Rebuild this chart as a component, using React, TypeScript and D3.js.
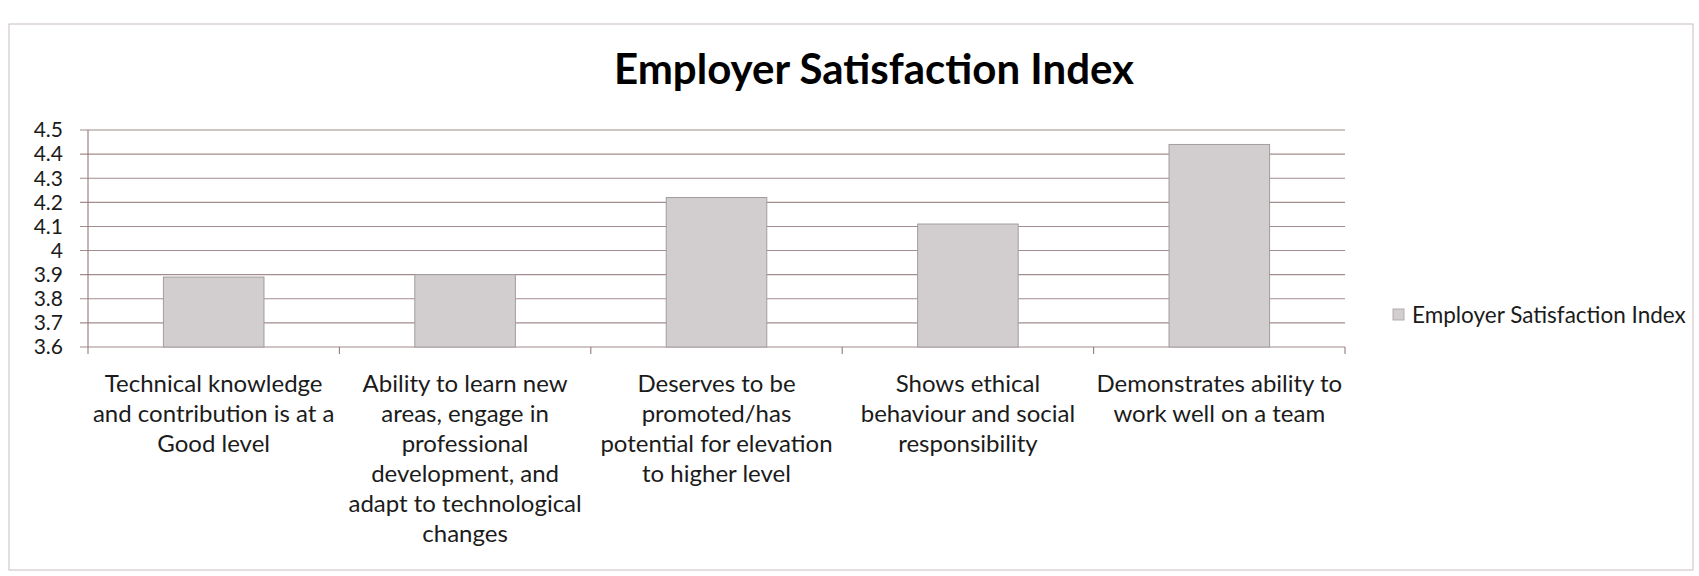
import { useEffect, useRef } from 'react'
import * as d3 from 'd3'

const chartTitle = 'Employer Satisfaction Index'
const seriesName = 'Employer Satisfaction Index'

// category names, wrapped the way the original chart wraps them
const categories = [
  ['Technical knowledge', 'and contribution is at a', 'Good level'],
  ['Ability to learn new', 'areas, engage in', 'professional', 'development, and', 'adapt to technological', 'changes'],
  ['Deserves to be', 'promoted/has', 'potential for elevation', 'to higher level'],
  ['Shows ethical', 'behaviour and social', 'responsibility'],
  ['Demonstrates ability to', 'work well on a team'],
]
const values = [3.89, 3.9, 4.22, 4.11, 4.44]
const yTicks = [3.6, 3.7, 3.8, 3.9, 4.0, 4.1, 4.2, 4.3, 4.4, 4.5]

const W = 1699
const H = 576

export default function App() {
  const ref = useRef<SVGSVGElement | null>(null)

  useEffect(() => {
    const svg = d3.select(ref.current)
    svg.selectAll('*').remove()

    const font = 'Lato, "Open Sans", sans-serif'
    const ink = '#1b1b1b'
    const gridColor = '#927a7b'
    const left = 88, right = 1345, top = 130, bottom = 347

    // chart frame
    svg.append('rect')
      .attr('x', 9).attr('y', 24).attr('width', 1684).attr('height', 546)
      .attr('fill', '#fff').attr('stroke', '#cbbdbe').attr('stroke-width', 1)

    svg.append('text')
      .attr('x', 874).attr('y', 84)
      .attr('text-anchor', 'middle')
      .attr('font-family', font).attr('font-weight', 700).attr('font-size', 42)
      .attr('fill', '#000')
      .text(chartTitle)

    const x = d3.scaleBand<number>()
      .domain(values.map((_, i) => i))
      .range([left, right])
      .paddingInner(0.6)
      .paddingOuter(0.3)
    const y = d3.scaleLinear().domain([3.6, 4.5]).range([bottom, top])

    // gridlines (they run out past the axis as tick marks)
    svg.append('g').selectAll('line')
      .data(yTicks)
      .join('line')
      .attr('x1', left - 8).attr('x2', right)
      .attr('y1', d => y(d)).attr('y2', d => y(d))
      .attr('stroke', gridColor).attr('stroke-width', 1.1).attr('opacity', 0.85)

    svg.append('line')
      .attr('x1', left).attr('x2', left).attr('y1', top).attr('y2', bottom)
      .attr('stroke', gridColor).attr('stroke-width', 1.1)

    svg.append('g').selectAll('text')
      .data(yTicks)
      .join('text')
      .attr('x', 63).attr('y', d => y(d)).attr('dy', '0.35em')
      .attr('text-anchor', 'end')
      .attr('font-family', font).attr('font-size', 21).attr('fill', ink)
      .text(d => String(+d.toFixed(1)))

    // category tick marks
    const step = x.step()
    svg.append('g').selectAll('line')
      .data(d3.range(categories.length + 1))
      .join('line')
      .attr('x1', i => left + i * step).attr('x2', i => left + i * step)
      .attr('y1', bottom).attr('y2', bottom + 7)
      .attr('stroke', gridColor).attr('stroke-width', 1.1)

    svg.append('g').selectAll('rect')
      .data(values)
      .join('rect')
      .attr('x', (_, i) => x(i) as number)
      .attr('y', d => y(d))
      .attr('width', x.bandwidth())
      .attr('height', d => bottom - y(d))
      .attr('fill', '#d2cecf')
      .attr('stroke', '#a39c9d').attr('stroke-width', 1)

    const labels = svg.append('g')
      .attr('font-family', font).attr('font-size', 24).attr('fill', ink)
      .attr('text-anchor', 'middle')
    categories.forEach((lines, i) => {
      const cx = (x(i) as number) + x.bandwidth() / 2
      labels.append('text')
        .selectAll('tspan')
        .data(lines)
        .join('tspan')
        .attr('x', cx)
        .attr('y', (_, j) => 392 + j * 30)
        .text(d => d)
    })

    // legend
    svg.append('rect')
      .attr('x', 1393).attr('y', 309).attr('width', 11).attr('height', 11)
      .attr('fill', '#d2cecf').attr('stroke', '#b3adae')
    svg.append('text')
      .attr('x', 1412).attr('y', 323)
      .attr('font-family', font).attr('font-size', 22.5).attr('fill', ink)
      .text(seriesName)
  }, [])

  return (
    <svg
      ref={ref}
      width={W}
      height={H}
      style={{ position: 'absolute', left: 0, top: 0, background: '#fff' }}
    />
  )
}
